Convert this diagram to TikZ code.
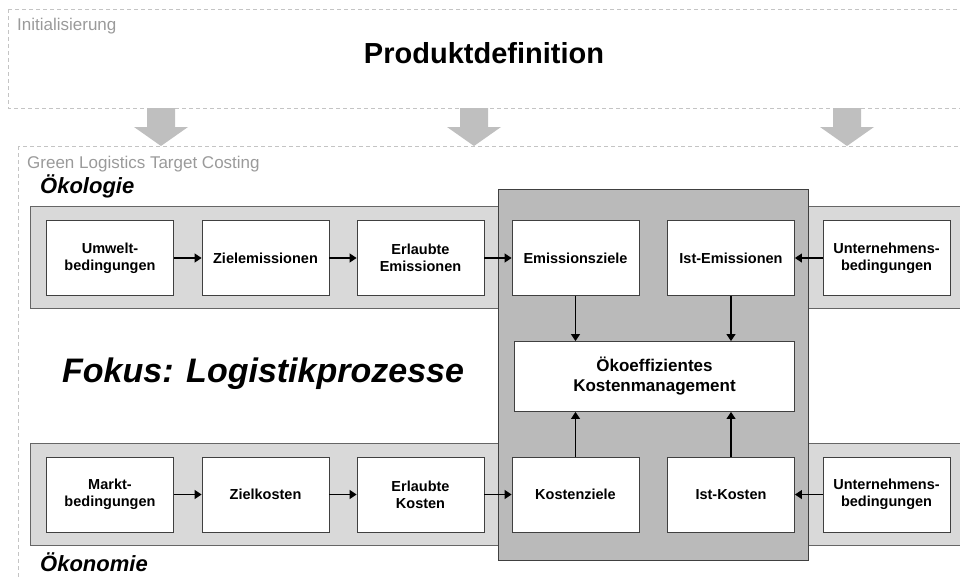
\documentclass[tikz,border=0pt]{standalone}
\usepackage{fontspec}
\setmainfont{Liberation Sans}
\usetikzlibrary{arrows.meta}

\definecolor{bandgray}{HTML}{D9D9D9}
\definecolor{coregray}{HTML}{BABABA}
\definecolor{dashgray}{HTML}{C4C4C4}
\definecolor{labelgray}{HTML}{9A9A9A}
\definecolor{edgegray}{HTML}{404040}
\definecolor{bandedge}{HTML}{666666}
\definecolor{bigarrow}{HTML}{BFBFBF}

\begin{document}
\begin{tikzpicture}[x=1pt,y=-1pt,
  stepbox/.style={draw=edgegray, fill=white, line width=0.9pt,
    minimum width=127pt, minimum height=75pt, align=center, inner sep=0pt,
    font=\fontsize{14.5}{17}\selectfont\bfseries},
  flow/.style={-{Triangle[length=7pt,width=9pt]}, line width=1.1pt},
  phase/.style={draw=dashgray, line width=0.9pt, dash pattern=on 4pt off 3pt},
  phaselabel/.style={text=labelgray, anchor=base west, inner sep=0pt,
    font=\fontsize{17}{20}\selectfont},
  sidelabel/.style={anchor=base west, inner sep=0pt,
    font=\fontsize{22}{26}\selectfont\bfseries\itshape},
  band/.style={draw=bandedge, fill=bandgray, line width=0.9pt},
  downarrow/.style={fill=bigarrow}
]
\useasboundingbox (0,0) rectangle (960,578);

% Phase frames (dashed)
\draw[phase] (8,9) rectangle (975,108);
\draw[phase] (18,146) rectangle (975,590);
\node[phaselabel] (init) at (17,31) {Initialisierung};
\node[phaselabel] (gltc) at (27,168) {Green Logistics Target Costing};
\node[font=\fontsize{29}{34}\selectfont\bfseries, inner sep=0pt] (prod) at (484,53) {Produktdefinition};

% Block arrows from the product definition
\foreach \cx in {161,474,847}{
  \fill[downarrow] (\cx-14,108) -- (\cx+14,108) -- (\cx+14,127) -- (\cx+27,127)
    -- (\cx,146) -- (\cx-27,127) -- (\cx-14,127) -- cycle;
}

% Ecology and economy bands
\draw[band] (30,206) rectangle (975,308);
\draw[band] (30,443) rectangle (975,545);

% Core area
\draw[draw=edgegray, fill=coregray, line width=0.9pt] (498,189) rectangle (808,560);

% Side labels
\node[sidelabel] (oekol) at (40,193) {Ökologie};
\node[sidelabel] (oekon) at (40,571) {Ökonomie};
\node[anchor=base west, inner sep=0pt, font=\fontsize{34}{40}\selectfont\bfseries\itshape]
  (fokus) at (62,382) {Fokus: Logistikprozesse};

% Ecology row
\node[stepbox] (e1) at (110,258) {Umwelt-\\bedingungen};
\node[stepbox] (e2) at (265.5,258) {Zielemissionen};
\node[stepbox] (e3) at (420.5,258) {Erlaubte\\Emissionen};
\node[stepbox] (e4) at (575.5,258) {Emissionsziele};
\node[stepbox] (e5) at (731,258) {Ist-Emissionen};
\node[stepbox] (e6) at (886.5,258) {Unternehmens-\\bedingungen};

% Economy row
\node[stepbox] (k1) at (110,494.5) {Markt-\\bedingungen};
\node[stepbox] (k2) at (265.5,494.5) {Zielkosten};
\node[stepbox] (k3) at (420.5,494.5) {Erlaubte\\Kosten};
\node[stepbox] (k4) at (575.5,494.5) {Kostenziele};
\node[stepbox] (k5) at (731,494.5) {Ist-Kosten};
\node[stepbox] (k6) at (886.5,494.5) {Unternehmens-\\bedingungen};

% Central management box
\node[stepbox, minimum width=280pt, minimum height=70pt,
  font=\fontsize{17}{20}\selectfont\bfseries] (mgmt) at (654.5,376.5)
  {Ökoeffizientes\\Kostenmanagement};

% Connectors
\draw[flow] (e1.east) -- (e2.west);
\draw[flow] (e2.east) -- (e3.west);
\draw[flow] (e3.east) -- (e4.west);
\draw[flow] (e6.west) -- (e5.east);
\draw[flow] (k1.east) -- (k2.west);
\draw[flow] (k2.east) -- (k3.west);
\draw[flow] (k3.east) -- (k4.west);
\draw[flow] (k6.west) -- (k5.east);
\draw[flow] (e4.south) -- (e4.south |- mgmt.north);
\draw[flow] (e5.south) -- (e5.south |- mgmt.north);
\draw[flow] (k4.north) -- (k4.north |- mgmt.south);
\draw[flow] (k5.north) -- (k5.north |- mgmt.south);
\end{tikzpicture}
\end{document}
